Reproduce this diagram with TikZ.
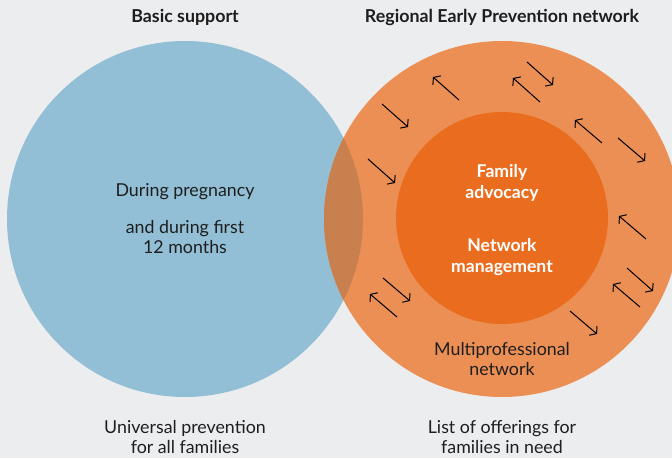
\documentclass[tikz,border=0pt]{standalone}
\usepackage{fontspec}
\setmainfont{Lato}
\usetikzlibrary{arrows.meta}
\definecolor{bg}{HTML}{ECEDEF}
\definecolor{blueC}{HTML}{93BFD6}
\definecolor{orangeC}{HTML}{EC8F55}
\definecolor{innerC}{HTML}{EA6D1F}
\definecolor{overlapC}{HTML}{C8804F}
\definecolor{txt}{HTML}{1E1E1E}
\tikzset{
  title/.style={font=\fontsize{17.8}{20}\selectfont\bfseries, text=txt, align=center},
  body/.style={font=\fontsize{17.8}{20.5}\selectfont, text=txt, align=center},
  inner/.style={font=\fontsize{17.6}{21}\selectfont\bfseries, text=white, align=center},
  flow/.style={line width=1pt, draw=black, -{Straight Barb[length=4.5pt,width=12pt]}}
}
\begin{document}
\begin{tikzpicture}[x=1pt,y=-1pt]
\fill[bg] (0,0) rectangle (672,458);
\useasboundingbox (0,0) rectangle (672,458);
% circles
\fill[blueC] (185,219) circle (178);
\fill[orangeC] (502,219) circle (178);
\begin{scope}
  \clip (185,219) circle (178);
  \fill[overlapC] (502,219) circle (178);
\end{scope}
\fill[innerC] (502,218) circle (106);
% titles
\node[title] (t1) at (185,17) {Basic support};
\node[title] (t2) at (502,17) {Regional Early Prevention network};
% left circle text
\node[body] (l1) at (185,192) {During pregnancy};
\node[body] (l2) at (185,237) {and during first\\12 months};
% inner text
\node[inner] (i1) at (502,183) {Family\\advocacy};
\node[inner] (i2) at (502,257) {Network\\management};
\node[body] (m1) at (502,359) {Multiprofessional\\network};
% bottom text
\node[body, inner ysep=1pt] (b1) at (185,437) {Universal prevention\\for all families};
\node[body, inner ysep=1pt] (b2) at (502,437) {List of offerings for\\families in need};
% arrows
\draw[flow] (459,100) -- (433,77);
\draw[flow] (527,62) -- (553,85);
\draw[flow] (540,102) -- (513,78);
\draw[flow] (382,104) -- (408,127);
\draw[flow] (602,143) -- (575,120);
\draw[flow] (618,138) -- (645,161);
\draw[flow] (368,159) -- (395,183);
\draw[flow] (646,239) -- (619,216);
\draw[flow] (627,268) -- (653,291);
\draw[flow] (640,307) -- (613,284);
\draw[flow] (383,278) -- (410,301);
\draw[flow] (397,317) -- (370,294);
\draw[flow] (570,311) -- (597,334);
\end{tikzpicture}
\end{document}
